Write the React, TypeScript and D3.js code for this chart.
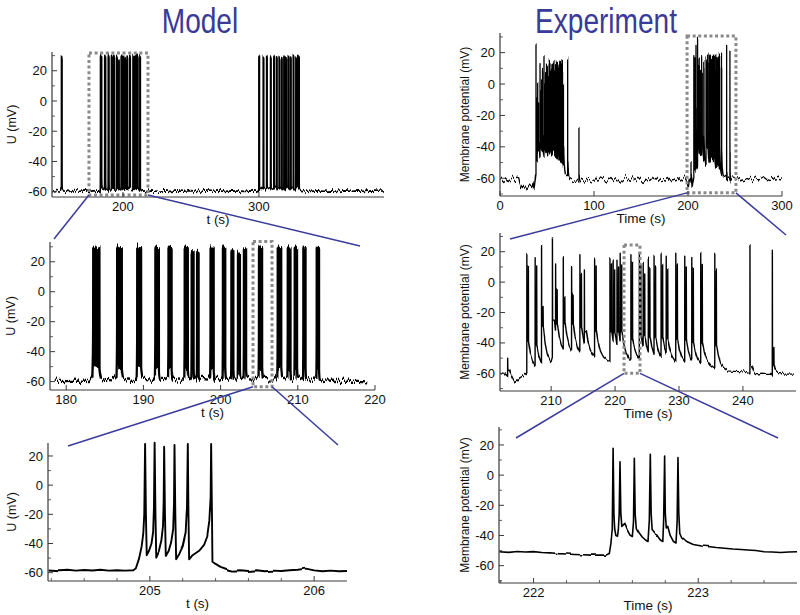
import React, { useMemo } from "react";
import * as d3 from "d3";

type Pt = [number, number];

// ---------------- Model data ----------------
// baseline of the model membrane potential U (t in s, U in mV)
const modelBaseline: Pt[] = [
  [147.8, -59.6], [151, -59.2], [154, -59.7], [156, -59.4], [160, -59.8], [164, -59.3], [168, -59.7],
  [172, -59.4], [176, -59.8], [178.5, -59.3], [180, -59.7], [181.5, -59.4], [183, -59.6], [185, -58.8],
  [186, -59.2], [188, -58.6], [189, -59.0], [190.7, -58.5], [191.3, -58.9], [192.8, -58.4], [194.5, -58.6],
  [195.0, -58.8], [196.0, -58.4], [196.8, -58.6], [197.8, -58.3], [198.4, -58.7], [199.7, -58.4],
  [200.9, -58.2], [201.9, -58.5], [202.8, -58.3], [203.8, -58.6], [204.5, -58.4], [206.2, -58.5],
  [207, -58.7], [208.2, -58.4], [209.3, -58.6], [210.3, -58.3], [211.5, -58.6], [212.1, -58.8],
  [213.5, -59.2], [215, -59.6], [217, -59.3], [219, -59.8], [221, -59.5], [225, -59.7], [230, -59.4],
  [235, -59.8], [240, -59.5], [245, -59.7], [250, -59.3], [255, -59.8], [260, -59.4], [265, -59.7],
  [270, -59.5], [275, -59.8], [280, -59.4], [285, -59.6], [290, -59.8], [295, -59.4], [298, -59.6],
  [299.5, -59.2], [301.5, -58.6], [304.5, -58.2], [307, -57.8], [310, -57.6], [312, -57.3], [316, -57.2],
  [320, -57.4], [324, -57.6], [327, -58], [330.5, -59], [333, -59.5], [338, -59.8], [343, -59.4],
  [348, -59.7], [353, -59.5], [358, -59.8], [363, -59.4], [368, -59.7], [373, -59.5], [378, -59.8],
  [383, -59.4], [388, -59.7], [392, -59.5],
];

// model bursts: [first spike (s), last spike (s), peak (mV)]
const modelBursts: [number, number, number][] = [
  [154.8, 155.15, 30],
  [183.5, 184.3, 30], [186.6, 187.2, 30], [189.2, 189.7, 30], [191.55, 192.0, 30], [193.25, 193.65, 30],
  [195.35, 195.75, 30], [196.25, 196.5, 27], [196.95, 197.15, 26.5], [198.7, 199.1, 29.5], [200.3, 200.6, 30],
  [201.4, 201.65, 28], [202.25, 202.5, 26], [203.02, 203.3, 29], [204.971, 205.373, 30], [207.4, 207.85, 30],
  [208.7, 209.05, 29.5], [209.6, 209.9, 30], [210.72, 211.0, 30], [212.45, 212.75, 30],
  [300.0, 300.35, 30], [303.2, 303.5, 29.5], [305.7, 306.0, 30], [308.6, 308.9, 29], [311.0, 311.3, 30],
  [313.0, 313.3, 28.5], [314.9, 315.2, 29], [316.7, 317.0, 28], [318.4, 318.7, 29], [319.9, 320.2, 28.5],
  [321.6, 321.9, 30], [323.3, 323.6, 29], [325.3, 325.6, 30], [327.2, 327.5, 29], [328.5, 328.8, 30],
  [329.3, 329.6, 29.5],
];

// detailed model trace around t = 205 s
const modelDetail: Pt[] = [
  [204.38, -57.8], [204.45, -58.3], [204.5, -58.0], [204.55, -58.6], [204.6, -58.2], [204.65, -58.5],
  [204.7, -58.0], [204.75, -58.6], [204.8, -58.3], [204.85, -58.6], [204.9, -58.3],
  [204.915, -57], [204.935, -50], [204.95, -42], [204.96, -33], [204.966, -20], [204.971, 28.2],
  [204.976, -20], [204.981, -48], [204.995, -45], [205.01, -40], [205.02, -32], [205.025, -15],
  [205.029, 29.1], [205.034, -20], [205.039, -49], [205.055, -45], [205.07, -38], [205.08, -28],
  [205.084, -12], [205.087, 26.4], [205.092, -20], [205.097, -48.5], [205.115, -45], [205.13, -39],
  [205.142, -30], [205.147, -12], [205.15, 27.5], [205.155, -20], [205.16, -50.8], [205.18, -47],
  [205.2, -42], [205.218, -33], [205.226, -15], [205.231, 28.2], [205.235, -20], [205.239, -50.8],
  [205.26, -48], [205.3, -45], [205.33, -41], [205.35, -35], [205.362, -25], [205.37, -8], [205.373, 28.2],
  [205.378, -20], [205.381, -52.5], [205.4, -54], [205.43, -56], [205.48, -58], [205.5, -58.6],
  [205.55, -58.3], [205.6, -58.8], [205.65, -58.3], [205.7, -59], [205.75, -58.6], [205.8, -58.8],
  [205.85, -58.3], [205.9, -58], [205.95, -57.2], [206.0, -58.4], [206.05, -59], [206.1, -58.6],
  [206.15, -59], [206.2, -58.8],
];

// ---------------- Experiment data ----------------
// lower envelope of the recorded membrane potential
const expBaseline: Pt[] = [
  [0, -61], [2, -60], [4, -61.5], [6, -60.5], [8, -62], [10, -60.5], [12, -61], [14, -60], [16, -61.5],
  [18, -60.5], [20, -61], [21, -64], [22, -66], [24, -64], [25, -66], [27, -65], [29, -67], [31, -65],
  [33, -66], [35, -64], [36, -68], [37, -64], [38, -58], [39, -54], [40, -50], [42, -47], [45, -48],
  [48, -49], [51, -50], [54, -51], [57, -52], [60, -53], [63, -54], [66, -55], [69, -57], [72, -59],
  [75, -60.5], [78, -61.5], [81, -62], [83, -63], [85, -62], [88, -61], [91, -62], [94, -60.5], [97, -61.5],
  [100, -62], [103, -60], [106, -61.5], [109, -60.5], [112, -62], [115, -61], [118, -59.5], [121, -61.5],
  [124, -60], [127, -62], [130, -61], [133, -59.5], [136, -61], [139, -62], [142, -60], [145, -61.5],
  [148, -60], [151, -62], [154, -60.5], [157, -61], [160, -59.5], [163, -61.5], [166, -60], [169, -62],
  [172, -60.5], [175, -61], [178, -59.5], [181, -61.5], [184, -60], [187, -61], [190, -60], [193, -61.5],
  [196, -60], [198, -61], [199.5, -64], [200.3, -66], [201, -62], [202, -60], [202.8, -61], [203.6, -64],
  [204.4, -67], [205.1, -63], [205.8, -61], [206.1, -60], [207, -58], [208, -58], [209, -57], [210, -55],
  [210.4, -47], [212, -48], [214, -49], [216, -50], [218, -51.5], [220, -52], [222, -52.5], [224, -52.5],
  [226, -53], [228, -53.5], [230, -54], [232, -55], [234, -55.5], [235.5, -56], [236.5, -58], [238, -58.5],
  [240, -59], [241, -60], [241.8, -62.5], [243, -60], [244.4, -60], [245, -63.5], [246, -60.5], [248, -60.5],
  [251, -61], [254, -60], [257, -61.5], [260, -60.5], [263, -61], [266, -60], [269, -61.5], [272, -60],
  [275, -61], [278, -60.5], [281, -59.5], [284, -61], [287, -60], [290, -58.5], [293, -60.5], [296, -60],
  [300, -60.5],
];

// events: [time (s), peak (mV), second peak (mV) or null, after-spike level (mV)]
const expEvents: [number, number, number | null, number][] = [
  [38.3, 25, -10, -35], [39.6, -8, null, -40], [40.1, 1, -15, -35], [41.0, -12, null, -38],
  [42.6, 13, -5, -30], [43.5, -5, null, -32], [44.3, 2, -10, -30], [45.2, 8, null, -32],
  [46.8, 18, 0, -28], [47.7, 0, null, -32], [48.5, 6, -8, -30], [49.5, 12, null, -32],
  [50.7, 11, 4, -30], [51.6, 4, null, -32], [52.5, 15, 8, -30], [53.4, 8, null, -33],
  [54.3, 13, 5, -31], [55.2, 10, null, -33], [56.0, 14, 8, -31], [56.8, 11, null, -33],
  [57.4, 15, 9, -32], [58.3, 8, null, -34], [59.2, 11, 5, -33], [60.1, 14, null, -34],
  [61.0, 15, 10, -33], [61.8, 10, null, -35], [62.7, 12, 5, -34], [63.6, 14, null, -36],
  [64.5, 15, 10, -35], [65.4, 12, null, -37], [66.3, 15, 8, -36], [67.5, 0, null, -40],
  [72.0, 16, null, -50], [84.0, -27, null, -58],
  [203.2, -50, null, -58], [206.2, 18, 11, -40], [207.5, 16, 10, -42], [208.5, 24, -16, -30],
  [210.2, 29, null, -25], [210.7, 12, -5, -28], [211.9, 16, -10, -27], [213.2, 10, -8, -28],
  [214.5, 18, 5, -30], [215.2, 8, null, -32], [216.8, 15, 10, -32], [219.2, 16, 12, -33],
  [219.7, 14, 8, -33], [220.3, 15, 10, -33], [220.8, 19, 12, -33], [222.48, 18, 13, -38],
  [223.8, 19, 12, -35], [224.4, 13, 6, -36], [225.2, 15, 9, -36], [226.1, 17, 10, -37],
  [227.2, 19, 12, -37], [228.0, 17, 9, -38], [229.5, 19, 12, -38], [230.9, 17, 10, -39],
  [232.0, 16, 9, -40], [233.4, 19, 11, -40], [235.6, 19, 8, -42], [241.1, 24, null, -55],
  [244.6, 21, -43, -55],
];

// relaxation of the after-spike level back to the envelope (time after spike, fraction remaining)
const expTailShape: Pt[] = [[0, 1], [0.25, 0.62], [0.6, 0.32], [1.1, 0.12], [1.7, 0]];

// detailed recording around t = 222.5 s
const expDetail: Pt[] = [
  [221.79, -50.8], [221.85, -51.2], [221.9, -50.6], [221.95, -51], [222.0, -50.7], [222.05, -51.3],
  [222.1, -51.5], [222.15, -52], [222.2, -52.3], [222.25, -52.6], [222.3, -52.8], [222.35, -53],
  [222.4, -52.9], [222.44, -53], [222.46, -52], [222.47, -45], [222.478, -35], [222.483, 17.8],
  [222.488, -25], [222.493, -36], [222.5, -40], [222.51, -40.5], [222.515, -36], [222.52, -25],
  [222.525, 8.9], [222.53, -25], [222.536, -34], [222.545, -33], [222.555, -32], [222.57, -36],
  [222.585, -39], [222.6, -40], [222.607, -30], [222.612, 11.2], [222.617, -25], [222.624, -35],
  [222.64, -38], [222.66, -41], [222.68, -43], [222.695, -44], [222.703, -30], [222.709, 13.8],
  [222.714, -25], [222.72, -36], [222.735, -38], [222.75, -40], [222.77, -43], [222.785, -44],
  [222.79, -30], [222.796, 12.7], [222.8, -25], [222.806, -35], [222.815, -34], [222.83, -40],
  [222.85, -44], [222.865, -45], [222.872, -30], [222.877, 11.6], [222.882, -25], [222.888, -38],
  [222.9, -41], [222.93, -44], [222.97, -46], [223.02, -47], [223.07, -47.5], [223.11, -48],
  [223.16, -48.5], [223.21, -49], [223.26, -49.3], [223.3, -49.6], [223.35, -50], [223.4, -50.8],
  [223.45, -51], [223.5, -51.3], [223.55, -51], [223.6, -50.8],
];

// ---------------- tick values ----------------
const mvTicks = [-60, -40, -20, 0, 20];
const mvMinor = [-70, -50, -30, -10, 10, 30];
const m1Ticks = [200, 300];
const m2Ticks = [180, 190, 200, 210, 220];
const m3Ticks = [205, 206];
const m3Minor = [204.4, 204.6, 204.8, 205.2, 205.4, 205.6, 205.8];
const e1Ticks = [0, 100, 200, 300];
const e2Ticks = [210, 220, 230, 240];
const e3Ticks = [222, 223];
const e3Minor = [221.8, 222.2, 222.4, 222.6, 222.8, 223.2, 223.4];

// zoom windows marked by dashed boxes: [t0, t1, vLow, vHigh]
const m1Box = [175.0, 218.4, -62.2, 31.7];
const m2Box = [204.2, 206.66, -63.4, 33.6];
const e1Box = [199, 251, -69.3, 30.6];
const e2Box = [221.4, 223.9, -60, 24.4];

// ---------------- trace builders ----------------
function buildModelTrace(): Pt[] {
  const peaks = modelDetail.filter((d) => d[1] > 0);
  const T0 = peaks[0][0];
  const T1 = peaks[peaks.length - 1][0];
  const tw0 = T0 - 0.06;
  const tw1 = T1 + 0.12;
  const tmpl = modelDetail.filter((d) => d[0] >= tw0 && d[0] <= tw1);
  const wins = modelBursts.map(([s, e]) => {
    const k = (e - s) / (T1 - T0);
    return [s + (tw0 - T0) * k, s + (tw1 - T0) * k];
  });
  const pts: Pt[] = [];
  modelBaseline.forEach(([t, v]) => {
    if (!wins.some(([a, b]) => t >= a && t <= b)) pts.push([t, v]);
  });
  modelBursts.forEach(([s, e, peak]) => {
    const k = (e - s) / (T1 - T0);
    tmpl.forEach(([t, v]) => pts.push([s + (t - T0) * k, v > 0 ? (v * peak) / 29 : v]));
  });
  pts.sort((a, b) => a[0] - b[0]);
  return pts;
}

function buildExpTrace(): Pt[] {
  const base = d3
    .scaleLinear()
    .domain(expBaseline.map((d) => d[0]))
    .range(expBaseline.map((d) => d[1]))
    .clamp(true);
  const kernel = d3
    .scaleLinear()
    .domain(expTailShape.map((d) => d[0]))
    .range(expTailShape.map((d) => d[1]))
    .clamp(true);
  const evs = [...expEvents].sort((a, b) => a[0] - b[0]);
  const W = 0.3;
  const offsetAt = (tau: number) => {
    let off = 0;
    for (const e of evs) {
      const te = e[0] + W;
      if (te <= tau) off = (e[3] - base(te)) * kernel(tau - te);
    }
    return off;
  };
  const inSpike = (tau: number) => evs.some((e) => tau >= e[0] - 0.012 && tau <= e[0] + W);
  const pts: Pt[] = [];
  expBaseline.forEach(([t]) => {
    if (!inSpike(t)) pts.push([t, base(t) + offsetAt(t)]);
  });
  evs.forEach(([t, p1, p2, tail]) => {
    pts.push([t - 0.01, base(t) + offsetAt(t - 0.01)]);
    pts.push([t, p1]);
    pts.push([t + 0.03, tail]);
    if (p2 !== null) {
      pts.push([t + 0.21, tail + 3]);
      pts.push([t + 0.24, p2]);
      pts.push([t + 0.27, tail]);
    }
    pts.push([t + W, tail]);
    expTailShape.slice(1).forEach(([k]) => {
      const tau = t + W + k;
      if (!inSpike(tau)) pts.push([tau, base(tau) + offsetAt(tau)]);
    });
  });
  pts.sort((a, b) => a[0] - b[0]);
  return pts;
}

// ---------------- rendering ----------------
interface PanelSpec {
  key: string;
  xr: [number, number];
  yr: [number, number];
  td: [number, number];
  vd: [number, number];
  xticks: number[];
  xminor: number[];
  xlabel: string;
  ylabel: string;
  ylabelX: number;
  ylabelSize: number;
  data: Pt[];
  sw: number;
  filter: string;
  box?: number[];
}

const AXIS = "#3a3a3a";
const FONT = "'Liberation Sans', Arial, Helvetica, sans-serif";

function scalesOf(p: PanelSpec) {
  const x = d3.scaleLinear().domain(p.td).range(p.xr);
  const y = d3.scaleLinear().domain(p.vd).range(p.yr);
  return { x, y };
}

function Panel({ p }: { p: PanelSpec }) {
  const { x, y } = scalesOf(p);
  const line = d3
    .line<Pt>()
    .x((d) => x(d[0]))
    .y((d) => y(d[1]));
  const pad = (p.td[1] - p.td[0]) * 0.02;
  const pts = p.data.filter((d) => d[0] >= p.td[0] - pad && d[0] <= p.td[1] + pad);
  const [x0, x1] = p.xr;
  const [yb, yt] = p.yr;
  const vMinor = mvMinor.filter((v) => v >= p.vd[0] && v <= p.vd[1]);
  return (
    <g>
      <defs>
        <clipPath id={`clip-${p.key}`}>
          <rect x={x0 + 0.5} y={yt - 4} width={x1 - x0} height={yb - yt + 3.5} />
        </clipPath>
      </defs>
      <g clipPath={`url(#clip-${p.key})`}>
        <path
          d={line(pts) || ""}
          fill="none"
          stroke="#000"
          strokeWidth={p.sw}
          strokeLinejoin="round"
          filter={p.filter}
        />
      </g>
      {p.box && (
        <rect
          x={x(p.box[0])}
          y={y(p.box[3])}
          width={x(p.box[1]) - x(p.box[0])}
          height={y(p.box[2]) - y(p.box[3])}
          fill="none"
          stroke="#8a8a8a"
          strokeWidth={3}
          strokeDasharray="3 2.6"
        />
      )}
      {/* axes */}
      <line x1={x0} y1={yb} x2={x0} y2={yt} stroke={AXIS} strokeWidth={1.2} />
      <line x1={x0} y1={yb} x2={x1} y2={yb} stroke={AXIS} strokeWidth={1.2} />
      {mvTicks.map((v) => (
        <g key={`yt${v}`}>
          <line x1={x0} x2={x0 + 5} y1={y(v)} y2={y(v)} stroke={AXIS} strokeWidth={1} />
          <text x={x0 - 5} y={y(v)} dy="0.35em" textAnchor="end" fontSize={13} fill="#111">
            {v}
          </text>
        </g>
      ))}
      {vMinor.map((v) => (
        <line key={`ym${v}`} x1={x0} x2={x0 + 3} y1={y(v)} y2={y(v)} stroke={AXIS} strokeWidth={0.8} />
      ))}
      {p.xticks.map((t) => (
        <g key={`xt${t}`}>
          <line x1={x(t)} x2={x(t)} y1={yb} y2={yb - 5} stroke={AXIS} strokeWidth={1} />
          <text x={x(t)} y={yb + 14} textAnchor="middle" fontSize={13} fill="#111">
            {t}
          </text>
        </g>
      ))}
      {p.xminor.map((t) => (
        <line key={`xm${t}`} x1={x(t)} x2={x(t)} y1={yb} y2={yb - 3} stroke={AXIS} strokeWidth={0.8} />
      ))}
      <text x={(x0 + x1) / 2} y={yb + 27} textAnchor="middle" fontSize={13.5} fill="#111">
        {p.xlabel}
      </text>
      <text
        transform={`translate(${p.ylabelX},${(yb + yt) / 2}) rotate(-90)`}
        textAnchor="middle"
        fontSize={p.ylabelSize}
        fill="#111"
      >
        {p.ylabel}
      </text>
    </g>
  );
}

function Connector({ from, box, tgt }: { from: PanelSpec; box: number[]; tgt: [Pt, Pt] }) {
  const { x, y } = scalesOf(from);
  const bl: Pt = [x(box[0]), y(box[2])];
  const br: Pt = [x(box[1]), y(box[2])];
  return (
    <g stroke="#3b3b9c" strokeWidth={1.5}>
      <line x1={bl[0]} y1={bl[1]} x2={tgt[0][0]} y2={tgt[0][1]} />
      <line x1={br[0]} y1={br[1]} x2={tgt[1][0]} y2={tgt[1][1]} />
    </g>
  );
}

export default function App() {
  const modelTrace = useMemo(buildModelTrace, []);
  const expTrace = useMemo(buildExpTrace, []);

  const m1: PanelSpec = {
    key: "m1", xr: [52, 384], yr: [197, 52], td: [147.8, 392], vd: [-63.5, 32.4],
    xticks: m1Ticks, xminor: [], xlabel: "t (s)", ylabel: "U (mV)", ylabelX: 16, ylabelSize: 12.5,
    data: modelTrace, sw: 1.7, filter: "url(#noiseA)", box: m1Box,
  };
  const m2: PanelSpec = {
    key: "m2", xr: [50, 375], yr: [390, 242], td: [177.9, 220], vd: [-65.6, 33.2],
    xticks: m2Ticks, xminor: [], xlabel: "t (s)", ylabel: "U (mV)", ylabelX: 15, ylabelSize: 12.5,
    data: modelTrace, sw: 2.3, filter: "url(#noiseM2)", box: m2Box,
  };
  const m3: PanelSpec = {
    key: "m3", xr: [48, 347], yr: [581, 443], td: [204.38, 206.2], vd: [-65.7, 28.9],
    xticks: m3Ticks, xminor: m3Minor, xlabel: "t (s)", ylabel: "U (mV)", ylabelX: 16, ylabelSize: 12.5,
    data: modelDetail, sw: 1.9, filter: "url(#noiseC)",
  };
  const e1: PanelSpec = {
    key: "e1", xr: [500, 782], yr: [196, 33], td: [0, 300], vd: [-71.3, 32.5],
    xticks: e1Ticks, xminor: [], xlabel: "Time (s)", ylabel: "Membrane potential (mV)", ylabelX: 469,
    ylabelSize: 12, data: expTrace, sw: 1.3, filter: "url(#noiseB)", box: e1Box,
  };
  const e2: PanelSpec = {
    key: "e2", xr: [500, 796], yr: [391, 233], td: [202, 248.3], vd: [-71.6, 32.3],
    xticks: e2Ticks, xminor: [], xlabel: "Time (s)", ylabel: "Membrane potential (mV)", ylabelX: 469,
    ylabelSize: 12, data: expTrace, sw: 1.4, filter: "url(#noiseD)", box: e2Box,
  };
  const e3: PanelSpec = {
    key: "e3", xr: [499, 797], yr: [583, 427], td: [221.79, 223.6], vd: [-71.5, 31.9],
    xticks: e3Ticks, xminor: e3Minor, xlabel: "Time (s)", ylabel: "Membrane potential (mV)", ylabelX: 469,
    ylabelSize: 12, data: expDetail, sw: 1.6, filter: "url(#noiseC)",
  };

  const noiseFilter = (id: string, fx: number, fy: number, scale: number, seed: number) => (
    <filter id={id} x="-5%" y="-20%" width="110%" height="140%" colorInterpolationFilters="sRGB">
      <feTurbulence type="fractalNoise" baseFrequency={`${fx} ${fy}`} numOctaves={1} seed={seed} result="t" />
      <feColorMatrix
        in="t"
        type="matrix"
        values="0 0 0 0 0.5  0 1 0 0 0  0 0 0 0 0  0 0 0 0 1"
        result="m"
      />
      <feDisplacementMap in="SourceGraphic" in2="m" scale={scale} xChannelSelector="R" yChannelSelector="G" />
    </filter>
  );

  return (
    <svg
      width={800}
      height={615}
      viewBox="0 0 800 615"
      style={{ position: "absolute", left: 0, top: 0, display: "block" }}
      fontFamily={FONT}
    >
      <defs>
        {noiseFilter("noiseA", 0.6, 0.02, 9, 3)}
        {noiseFilter("noiseM2", 0.7, 0.02, 12, 4)}
        {noiseFilter("noiseB", 0.6, 0.02, 11, 5)}
        {noiseFilter("noiseC", 0.08, 0.02, 3, 7)}
        {noiseFilter("noiseD", 0.6, 0.02, 6, 9)}
      </defs>
      <rect x={0} y={0} width={800} height={615} fill="#fff" />
      <text
        x={200}
        y={33}
        textAnchor="middle"
        fontSize={36}
        fill="#3a3a98"
        transform="translate(200,0) scale(0.78,1) translate(-200,0)"
      >
        Model
      </text>
      <text
        x={606}
        y={33}
        textAnchor="middle"
        fontSize={36}
        fill="#3a3a98"
        transform="translate(606,0) scale(0.78,1) translate(-606,0)"
      >
        Experiment
      </text>
      {[m1, m2, m3, e1, e2, e3].map((p) => (
        <Panel key={p.key} p={p} />
      ))}
      <Connector from={m1} box={m1Box} tgt={[[54, 239], [360, 246]]} />
      <Connector from={m2} box={m2Box} tgt={[[68, 446], [338, 445]]} />
      <Connector from={e1} box={e1Box} tgt={[[510, 239], [786, 235]]} />
      <Connector from={e2} box={e2Box} tgt={[[516, 438], [778, 438]]} />
    </svg>
  );
}
